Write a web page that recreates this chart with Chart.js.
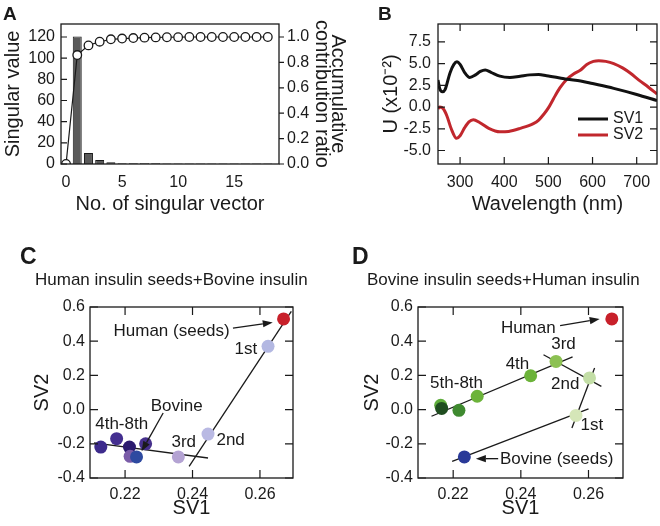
<!DOCTYPE html>
<html>
<head>
<meta charset="UTF-8">
<title>Singular value decomposition of insulin spectra</title>
<!-- Chart.js library -->
<script src="https://cdn.jsdelivr.net/npm/chart.js"></script>
<style>
    body { margin: 0; background: #fff; }
    /* the four panels sit on one 660x526 sheet */
    #sheet { position: relative; width: 660px; height: 526px; background: #fff; }
    #sheet canvas { position: absolute; }
</style>
</head>
<body>
<div id="sheet">
    <canvas id="chartA" width="350" height="230" style="left:0px;top:0px"></canvas>
    <canvas id="chartB" width="310" height="230" style="left:350px;top:0px"></canvas>
    <canvas id="chartC" width="330" height="296" style="left:0px;top:230px"></canvas>
    <canvas id="chartD" width="330" height="296" style="left:330px;top:230px"></canvas>
</div>

<script>
    // ---- Panel A: singular values and accumulative contribution ratio
    const aBarNo = [1, 2, 3, 4, 5, 6, 7, 8, 9, 10, 11, 12, 13, 14, 15, 16, 17, 18];
    const aSingular = [120.5, 10.4, 3.8, 1.6, 0.8, 0.7, 0.6, 0.6, 0.5, 0.5, 0.5, 0.5, 0.4, 0.4, 0.4, 0.4, 0.4, 0.4];
    const aVectorNo = [0, 1, 2, 3, 4, 5, 6, 7, 8, 9, 10, 11, 12, 13, 14, 15, 16, 17, 18];
    const aAccumRatio = [0, 0.858, 0.934, 0.963, 0.982, 0.988, 0.992, 0.995, 0.997, 0.998, 0.999, 1, 1, 1, 1, 1, 1, 1, 1];
    const aXTicks = [0, 5, 10, 15];
    const aYTicks = [0, 20, 40, 60, 80, 100, 120];
    const aY1Ticks = [0, 0.2, 0.4, 0.6, 0.8, 1.0];

    // ---- Panel B: first two left singular vectors
    const bWaveSv1 = [250, 254, 260, 266, 277, 286, 293, 300, 310, 322, 335, 346, 357, 370, 390, 413, 436, 458, 478, 496, 526, 542, 573, 600, 648, 700, 746];
    const bSv1 = [3.1, 2.1, 1.75, 2.0, 3.9, 4.9, 5.2, 4.9, 4.0, 3.4, 3.7, 4.1, 4.27, 4.0, 3.55, 3.4, 3.55, 3.7, 3.75, 3.6, 3.35, 3.2, 3.0, 2.7, 2.15, 1.45, 0.75];
    const bWaveSv2 = [250, 254, 262, 270, 280, 292, 300, 310, 320, 330, 345, 365, 390, 410, 436, 466, 478, 490, 500, 511, 526, 542, 557, 573, 587, 602, 614, 630, 648, 668, 686, 705, 726, 746];
    const bSv2 = [-0.2, 0.0, -0.2, -1.0, -2.5, -3.6, -3.3, -2.4, -1.7, -1.45, -1.8, -2.45, -2.85, -2.8, -2.45, -1.9, -1.5, -0.8, -0.1, 0.9, 2.2, 3.2, 3.8, 4.26, 4.9, 5.25, 5.33, 5.25, 5.0, 4.5, 3.88, 3.1, 2.3, 1.5];
    const bXTicks = [300, 400, 500, 600, 700];
    const bYTicks = [-5, -2.5, 0, 2.5, 5, 7.5];

    // ---- Panel C: human insulin seeds + bovine insulin
    const cSv1 = [0.2670, 0.2624, 0.2446, 0.2358, 0.2128, 0.2175, 0.2213, 0.2261, 0.2215, 0.2234];
    const cSv2 = [0.530, 0.370, -0.143, -0.277, -0.219, -0.170, -0.219, -0.200, -0.273, -0.277];
    const cSteepSv1 = [0.2390, 0.2693];
    const cSteepSv2 = [-0.332, 0.575];
    const cFlatSv1 = [0.2108, 0.2446];
    const cFlatSv2 = [-0.195, -0.283];

    // ---- Panel D: bovine insulin seeds + human insulin
    const dSv1 = [0.2669, 0.2233, 0.2563, 0.2603, 0.2504, 0.2429, 0.2271, 0.2217, 0.2163, 0.2166];
    const dSv2 = [0.530, -0.277, -0.034, 0.185, 0.282, 0.198, 0.078, -0.004, 0.025, 0.007];
    const dLineASv1 = [0.2136, 0.2553];
    const dLineASv2 = [-0.039, 0.308];
    const dLineBSv1 = [0.2467, 0.2638];
    const dLineBSv2 = [0.321, 0.136];
    const dLineCSv1 = [0.2618, 0.2551];
    const dLineCSv2 = [0.243, -0.108];
    const dLineDSv1 = [0.2197, 0.2600];
    const dLineDSv2 = [-0.303, 0.004];

    const svXTicks = [0.22, 0.24, 0.26];
    const svYTicks = [-0.4, -0.2, 0, 0.2, 0.4, 0.6];

    // point colours (styles, kept apart from the values)
    const cColors = ['#c8202a', '#b3b8e2', '#b9b9e3', '#b4a3d3', '#3d2b8c', '#442f90', '#2b1a6e', '#46308c', '#7a5ca8', '#2e4aa0'];
    const dColors = ['#c8202a', '#2a3a98', '#d5e6b8', '#c3dea6', '#8cc152', '#6cb33a', '#6cb33a', '#3f8a30', '#5fae3c', '#1f4d20'];

    const FONT = "'Liberation Sans', Arial, Helvetica, sans-serif";
    const INK = '#1a1a1a';

    Chart.defaults.font.family = FONT;
    Chart.defaults.font.size = 16;
    Chart.defaults.color = INK;
    Chart.defaults.animation = false;
    Chart.defaults.responsive = false;
    Chart.defaults.devicePixelRatio = 1;
    Chart.defaults.plugins.legend.display = false;
    Chart.defaults.plugins.tooltip.enabled = false;

    const pairs = (xs, ys) => xs.map((x, i) => ({ x: x, y: ys[i] }));

    // linear axis with fixed tick list and fixed thickness so the plot box lands where it should
    function linScale(min, max, tickList, fmt, size, pad, extra) {
        return Object.assign({
            type: 'linear', min: min, max: max, offset: false,
            grid: { display: false, drawTicks: false },
            border: { display: false },
            afterBuildTicks: s => { s.ticks = tickList.map(v => ({ value: v })); },
            ticks: { callback: fmt, padding: pad, autoSkip: false, maxRotation: 0, font: { size: 16 } },
            afterFit: s => { if (s.isHorizontal()) s.height = size; else s.width = size; }
        }, extra || {});
    }

    function axisTitle(text, size, padding, lineHeight) {
        return { display: true, text: text, color: INK, font: { size: size, lineHeight: lineHeight || 1.2 }, padding: padding };
    }

    // frame, inside ticks, panel letters, annotation text, arrows and legend
    function deco(cfg) {
        return {
            id: 'deco',
            afterDraw(chart) {
                const ctx = chart.ctx;
                const a = chart.chartArea;
                const sx = v => chart.scales.x.getPixelForValue(v);
                const sy = v => chart.scales.y.getPixelForValue(v);
                ctx.save();
                ctx.strokeStyle = INK;
                ctx.fillStyle = INK;
                ctx.lineWidth = 1.3;
                ctx.strokeRect(a.left, a.top, a.right - a.left, a.bottom - a.top);

                ctx.lineWidth = 1.2;
                (cfg.ticks || []).forEach(t => {
                    const s = chart.scales[t.id];
                    ctx.beginPath();
                    s.ticks.forEach(tk => {
                        const p = s.getPixelForValue(tk.value);
                        if (t.side === 'left') { ctx.moveTo(a.left, p); ctx.lineTo(a.left + t.len, p); }
                        if (t.side === 'right') { ctx.moveTo(a.right, p); ctx.lineTo(a.right - t.len, p); }
                        if (t.side === 'top') { ctx.moveTo(p, a.top); ctx.lineTo(p, a.top + t.len); }
                        if (t.side === 'bottom') { ctx.moveTo(p, a.bottom); ctx.lineTo(p, a.bottom - t.len); }
                    });
                    ctx.stroke();
                });

                (cfg.texts || []).forEach(l => {
                    ctx.font = (l.bold ? 'bold ' : '') + (l.size || 17) + 'px ' + FONT;
                    if (l.px !== undefined) {
                        ctx.textAlign = 'left';
                        ctx.textBaseline = 'alphabetic';
                        ctx.fillText(l.text, l.px, l.py);
                    } else {
                        ctx.textAlign = 'center';
                        ctx.textBaseline = 'middle';
                        ctx.fillText(l.text, sx(l.x), sy(l.y));
                    }
                });

                (cfg.arrows || []).forEach(r => {
                    const x1 = sx(r.x1), y1 = sy(r.y1), x2 = sx(r.x2), y2 = sy(r.y2);
                    const ang = Math.atan2(y2 - y1, x2 - x1);
                    const hl = 10, hw = 3.6;
                    const bx = x2 - hl * Math.cos(ang), by = y2 - hl * Math.sin(ang);
                    ctx.lineWidth = 1.3;
                    ctx.beginPath();
                    ctx.moveTo(x1, y1);
                    ctx.lineTo(bx, by);
                    ctx.stroke();
                    ctx.beginPath();
                    ctx.moveTo(x2, y2);
                    ctx.lineTo(bx - hw * Math.sin(ang), by + hw * Math.cos(ang));
                    ctx.lineTo(bx + hw * Math.sin(ang), by - hw * Math.cos(ang));
                    ctx.closePath();
                    ctx.fill();
                });

                (cfg.legend || []).forEach(g => {
                    const ds = chart.data.datasets[g.ds];
                    ctx.strokeStyle = ds.borderColor;
                    ctx.lineWidth = 3;
                    ctx.beginPath();
                    ctx.moveTo(g.px, g.py);
                    ctx.lineTo(g.px + 30, g.py);
                    ctx.stroke();
                    ctx.fillStyle = INK;
                    ctx.font = '16px ' + FONT;
                    ctx.textAlign = 'left';
                    ctx.textBaseline = 'middle';
                    ctx.fillText(ds.label, g.px + 35, g.py);
                });
                ctx.restore();
            }
        };
    }

    // ---------------- A
    new Chart(document.getElementById('chartA'), {
        type: 'bar',
        data: {
            datasets: [
                {
                    type: 'line', yAxisID: 'y1', data: pairs(aVectorNo, aAccumRatio),
                    borderColor: INK, borderWidth: 1.2, tension: 0,
                    pointRadius: 4.3, pointBackgroundColor: '#fff', pointBorderColor: INK, pointBorderWidth: 1.3
                },
                {
                    type: 'bar', yAxisID: 'y', data: pairs(aBarNo, aSingular),
                    backgroundColor: '#5a5a5a', borderColor: INK, borderWidth: 1,
                    categoryPercentage: 0.8, barPercentage: 1
                }
            ]
        },
        options: {
            layout: { padding: { top: 24, left: 0, right: 0, bottom: 0 } },
            scales: {
                x: linScale(-0.45, 19, aXTicks, v => String(v), 66, 9,
                    { title: axisTitle('No. of singular vector', 20, { top: 0, bottom: 14 }) }),
                y: linScale(0, 132.3, aYTicks, v => String(v), 61, 6,
                    { position: 'left', title: axisTitle('Singular value', 20, { top: 1, bottom: 0 }) }),
                y1: linScale(0, 1.1025, aY1Ticks, v => v.toFixed(1), 71, 8,
                    { position: 'right', title: axisTitle(['Accumulative', 'contribution ratio'], 20, { top: 4, bottom: 0 }, 0.8) })
            }
        },
        plugins: [deco({
            ticks: [{ id: 'y', side: 'left', len: 6 }, { id: 'y1', side: 'right', len: -5 }],
            texts: [{ text: 'A', px: 3, py: 20, size: 19, bold: true }]
        })]
    });

    // ---------------- B
    new Chart(document.getElementById('chartB'), {
        type: 'line',
        data: {
            datasets: [
                { label: 'SV1', data: pairs(bWaveSv1, bSv1), borderColor: '#111111', borderWidth: 3, pointRadius: 0, cubicInterpolationMode: 'monotone' },
                { label: 'SV2', data: pairs(bWaveSv2, bSv2), borderColor: '#c1272d', borderWidth: 3, pointRadius: 0, cubicInterpolationMode: 'monotone' }
            ]
        },
        options: {
            layout: { padding: { top: 24, left: 0, right: 3, bottom: 0 } },
            scales: {
                x: linScale(250, 746, bXTicks, v => String(v), 66, 9,
                    { title: axisTitle('Wavelength (nm)', 20, { top: 0, bottom: 14 }) }),
                y: linScale(-6.55, 9.55, bYTicks, v => v.toFixed(1), 88, 7,
                    { title: axisTitle('U (x10\u207B\u00B2)', 20, { top: 29, bottom: 0 }) })
            }
        },
        plugins: [deco({
            ticks: [
                { id: 'x', side: 'top', len: 7 }, { id: 'x', side: 'bottom', len: 7 },
                { id: 'y', side: 'left', len: 7 }, { id: 'y', side: 'right', len: 7 }
            ],
            texts: [{ text: 'B', px: 28, py: 20, size: 19, bold: true }],
            legend: [{ ds: 0, px: 228, py: 119 }, { ds: 1, px: 228, py: 135 }]
        })]
    });

    const svTicks = [
        { id: 'x', side: 'top', len: 8 }, { id: 'x', side: 'bottom', len: 8 },
        { id: 'y', side: 'left', len: 8 }, { id: 'y', side: 'right', len: 8 }
    ];

    function fitLine(xs, ys) {
        return { data: pairs(xs, ys), showLine: true, borderColor: INK, borderWidth: 1.3, pointRadius: 0 };
    }

    // ---------------- C
    new Chart(document.getElementById('chartC'), {
        type: 'scatter',
        data: {
            datasets: [
                { data: pairs(cSv1, cSv2), backgroundColor: cColors, borderWidth: 0, pointRadius: 6.5 },
                fitLine(cSteepSv1, cSteepSv2),
                fitLine(cFlatSv1, cFlatSv2)
            ]
        },
        options: {
            layout: { padding: { top: 77, left: 0, right: 37, bottom: 0 } },
            scales: {
                x: linScale(0.2096, 0.2698, svXTicks, v => v.toFixed(2), 48, 7,
                    { title: axisTitle('SV1', 20, { top: 0, bottom: 6 }) }),
                y: linScale(-0.4, 0.6, svYTicks, v => v.toFixed(1), 90, 5,
                    { title: axisTitle('SV2', 20, { top: 30, bottom: 0 }) })
            }
        },
        plugins: [deco({
            ticks: svTicks,
            texts: [
                { text: 'C', px: 20, py: 34, size: 23, bold: true },
                { text: 'Human insulin seeds+Bovine insulin', px: 35, py: 55, size: 17 },
                { text: 'Human (seeds)', x: 0.2338, y: 0.458 },
                { text: '1st', x: 0.2558, y: 0.35 },
                { text: '2nd', x: 0.2513, y: -0.18 },
                { text: '3rd', x: 0.2374, y: -0.191 },
                { text: '4th-8th', x: 0.2190, y: -0.088 },
                { text: 'Bovine', x: 0.2353, y: 0.019 }
            ],
            arrows: [
                { x1: 0.2520, y1: 0.477, x2: 0.2638, y2: 0.510 },
                { x1: 0.2313, y1: -0.020, x2: 0.2249, y2: -0.244 }
            ]
        })]
    });

    // ---------------- D
    new Chart(document.getElementById('chartD'), {
        type: 'scatter',
        data: {
            datasets: [
                { data: pairs(dSv1, dSv2), backgroundColor: dColors, borderWidth: 0, pointRadius: 6.5 },
                fitLine(dLineASv1, dLineASv2),
                fitLine(dLineBSv1, dLineBSv2),
                fitLine(dLineCSv1, dLineCSv2),
                fitLine(dLineDSv1, dLineDSv2)
            ]
        },
        options: {
            layout: { padding: { top: 77, left: 0, right: 37, bottom: 0 } },
            scales: {
                x: linScale(0.2096, 0.2702, svXTicks, v => v.toFixed(2), 48, 7,
                    { title: axisTitle('SV1', 20, { top: 0, bottom: 6 }) }),
                y: linScale(-0.4, 0.6, svYTicks, v => v.toFixed(1), 88, 5,
                    { title: axisTitle('SV2', 20, { top: 30, bottom: 0 }) })
            }
        },
        plugins: [deco({
            ticks: svTicks,
            texts: [
                { text: 'D', px: 22, py: 34, size: 23, bold: true },
                { text: 'Bovine insulin seeds+Human insulin', px: 37, py: 55, size: 17 },
                { text: 'Human', x: 0.2422, y: 0.477 },
                { text: '3rd', x: 0.2526, y: 0.380 },
                { text: '4th', x: 0.2390, y: 0.263 },
                { text: '2nd', x: 0.2531, y: 0.146 },
                { text: '5th-8th', x: 0.2210, y: 0.156 },
                { text: '1st', x: 0.2610, y: -0.094 },
                { text: 'Bovine (seeds)', x: 0.2506, y: -0.289 }
            ],
            arrows: [
                { x1: 0.2516, y1: 0.491, x2: 0.2633, y2: 0.530 },
                { x1: 0.2333, y1: -0.287, x2: 0.2267, y2: -0.287 }
            ]
        })]
    });
</script>
</body>
</html>
